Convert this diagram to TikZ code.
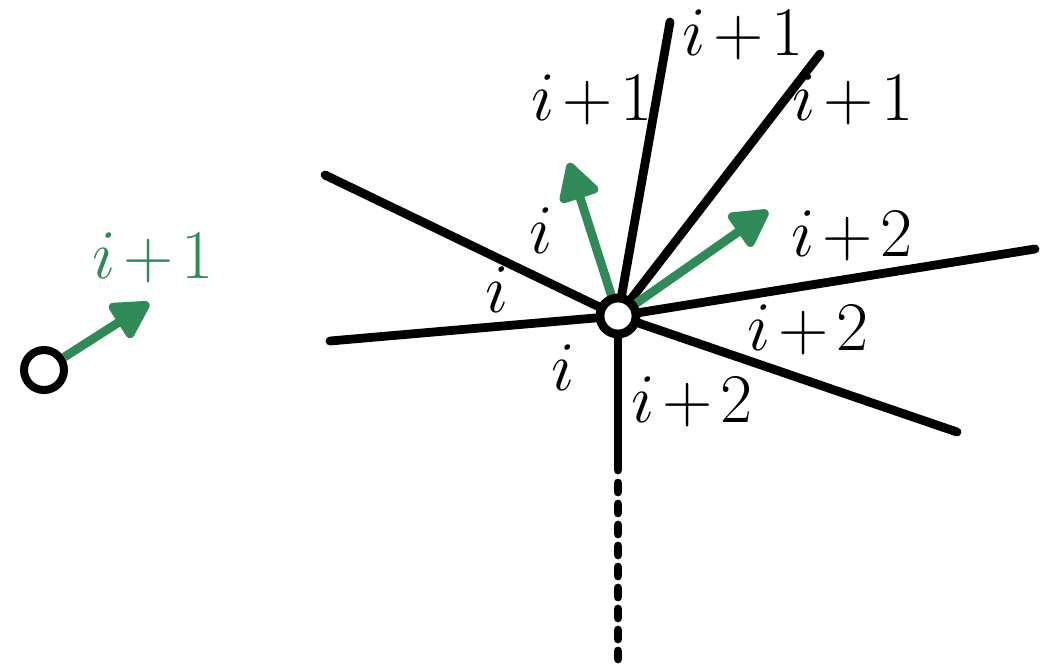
\documentclass[tikz,border=0pt]{standalone}
\usetikzlibrary{arrows.meta}
\definecolor{grn}{RGB}{46,139,87}
\newcommand{\mylbl}[1]{\scalebox{1.4}{$\medmuskip=2mu\relax #1$}}
\begin{document}
\begin{tikzpicture}[x=0.5pt,y=-0.5pt,
  edge/.style={line width=4.4pt,line cap=round},
  garrow/.style={grn,line width=4.4pt,-{Triangle[length=21pt,width=22pt,round]}},
  vtx/.style={circle,draw=black,fill=white,line width=4.4pt,minimum size=18pt,inner sep=0pt},
  lab/.style={anchor=base,inner sep=0pt,font=\fontsize{24.88}{30}\selectfont}]
\useasboundingbox (0,0) rectangle (1055,665);
\coordinate (v) at (618,316);
\coordinate (e1) at (670,22);
\coordinate (e2) at (820,54);
\coordinate (e3) at (325,175);
\coordinate (e4) at (330,341);
\coordinate (e5) at (1035,249);
\coordinate (e6) at (957,432);
\coordinate (e7) at (618,470);
\coordinate (e8) at (618,659);
\coordinate (g1) at (569,163);
\coordinate (g2) at (768,211);
\coordinate (g3) at (149,303);
\foreach \e in {e1,e2,e3,e4,e5,e6,e7}{\draw[edge] (v) -- (\e);}
\draw[edge,dash pattern=on 4.5pt off 6pt] ([yshift=-6.5pt]e7) -- (e8);
\draw[garrow] (v) -- (g1);
\draw[garrow] (v) -- (g2);
\node[vtx] (vn) at (v) {};
\node[vtx,minimum size=20pt,line width=4pt] (u) at (44,370) {};
\draw[garrow] (u) -- (g3);
\node[lab] (l1) at (743,55) {\mylbl{i+1}};
\node[lab] (l2) at (853,120) {\mylbl{i+1}};
\node[lab] (l3) at (592,120) {\mylbl{i+1}};
\node[lab] (l4) at (852,256) {\mylbl{i+2}};
\node[lab] (l5) at (808,350) {\mylbl{i+2}};
\node[lab] (l6) at (692,422) {\mylbl{i+2}};
\node[lab] (l7) at (541,253) {\mylbl{i}};
\node[lab] (l8) at (497,312) {\mylbl{i}};
\node[lab] (l9) at (563,390) {\mylbl{i}};
\node[lab,text=grn] (l10) at (153,278) {\mylbl{i+1}};
\end{tikzpicture}
\end{document}
